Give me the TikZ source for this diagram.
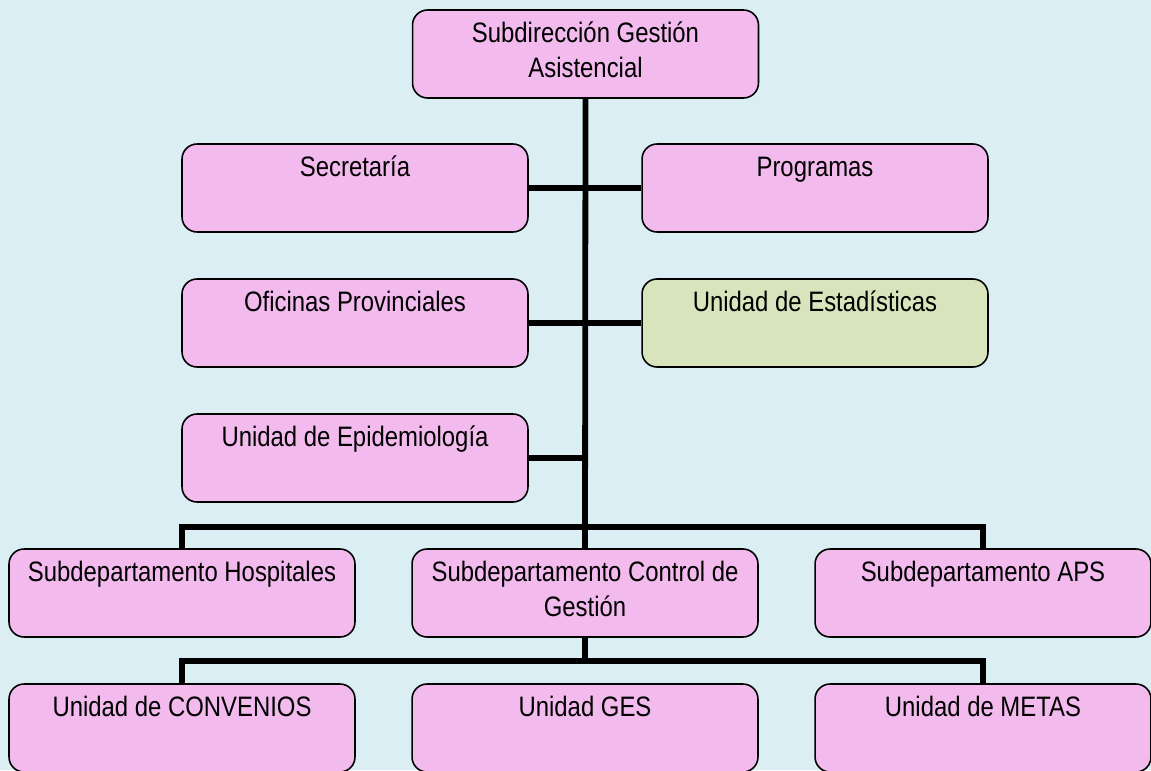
\documentclass[tikz,border=0pt]{standalone}
\usepackage{fontspec}
\setmainfont[FakeStretch=0.85]{Liberation Sans}
\usepackage{tikz}

\definecolor{unitpink}{RGB}{242,186,237}
\definecolor{unitgreen}{RGB}{216,228,188}
\definecolor{chartbg}{RGB}{218,238,243}

% box text sits at the top of a fixed-size box
\newcommand{\unitlabel}[2][6.92cm]{\parbox[c][1.76cm][t]{#1}{\centering\rule{0pt}{0.645cm}#2}}

\tikzset{
  unit/.style={draw=black, line width=0.9pt, fill=unitpink, rounded corners=0.3cm,
    inner sep=0pt, font=\fontsize{16pt}{20pt}\selectfont},
  stat/.style={unit, fill=unitgreen},
  link/.style={line width=3.3pt, black},
}

\begin{document}
\begin{tikzpicture}[x=0.02cm, y=-0.02cm]

    \useasboundingbox (0,0) rectangle (1151,770);
    \path[clip] (0,0) rectangle (1151,770);
    \fill[chartbg] (0,0) rectangle (1151,770);

    \node[unit] (sga) at (585.5,54) {\unitlabel{Subdirección Gestión\\Asistencial}};
    \node[unit] (sec) at (355,188) {\unitlabel{Secretaría}};
    \node[unit] (prog) at (815,188) {\unitlabel{Programas}};
    \node[unit] (ofi) at (355,323) {\unitlabel{Oficinas Provinciales}};
    \node[stat] (est) at (815,323) {\unitlabel{Unidad de Estadísticas}};
    \node[unit] (epi) at (355,458) {\unitlabel{Unidad de Epidemiología}};
    \node[unit] (hosp) at (182,593) {\unitlabel{Subdepartamento Hospitales}};
    \node[unit] (ctrl) at (585,593) {\unitlabel{Subdepartamento Control de\\Gestión}};
    \node[unit] (aps) at (983,593) {\unitlabel[6.72cm]{Subdepartamento APS}};
    \node[unit] (conv) at (182,728) {\unitlabel{Unidad de CONVENIOS}};
    \node[unit] (ges) at (585,728) {\unitlabel{Unidad GES}};
    \node[unit] (metas) at (983,728) {\unitlabel[6.72cm]{Unidad de METAS}};

    \coordinate (bus1) at (585,527);
    \coordinate (bus2) at (585,661);

    \draw[link] (sga.south) -- (ctrl.north);
    \draw[link] (sec.east) -- (prog.west);
    \draw[link] (ofi.east) -- (est.west);
    \draw[link] (epi.east) -- (epi.east -| sga.south);
    \draw[link] (hosp.north) |- (bus1) -| (aps.north);
    \draw[link] (ctrl.south) -- (bus2);
    \draw[link] (conv.north) |- (bus2) -| (metas.north);

\end{tikzpicture}
\end{document}
